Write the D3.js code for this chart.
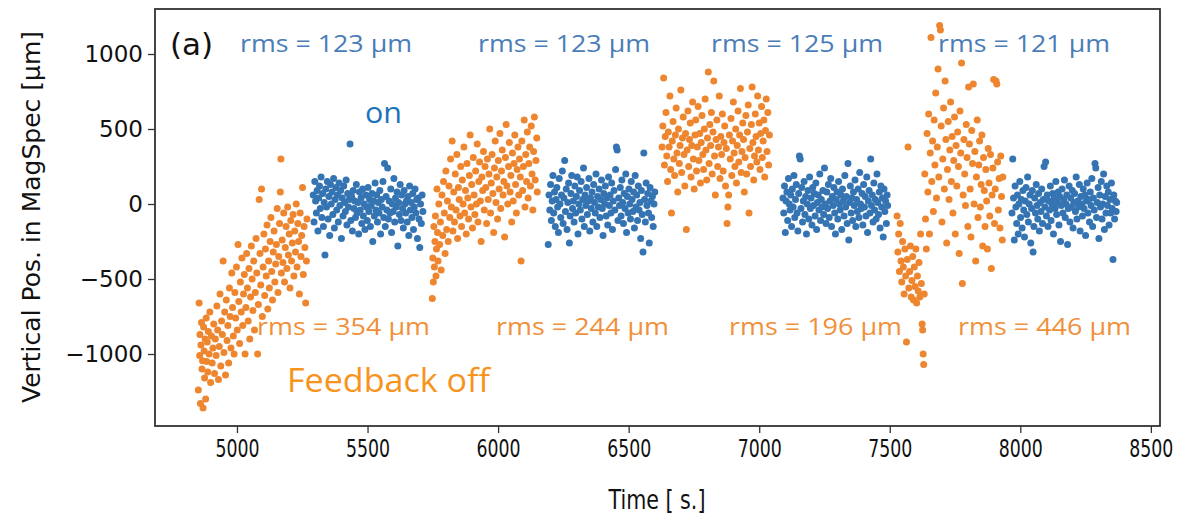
<!DOCTYPE html>
<html><head><meta charset="utf-8">
<script src="https://cdn.jsdelivr.net/npm/d3@7"></script>
<style>html,body{margin:0;padding:0;background:#fff;}svg{display:block;}</style>
</head><body>
<svg id="chart" width="1183" height="514"></svg>
<script>
// ---- data (time [s], vertical position [µm]) ----
const offA = [[4852,-1240],[4855,-660],[4857,-1010],[4858,-870],[4860,-1330],[4862,-940],[4864,-790],[4866,-1100],[4868,-1045],[4870,-1360],[4872,-820],[4874,-980],[4876,-1160],[4878,-900],[4880,-1300],[4882,-760],[4884,-1050],[4886,-920],[4888,-1120],[4890,-850],[4893,-1000],[4896,-720],[4899,-1190],[4902,-880],[4905,-1060],[4908,-960],[4911,-800],[4914,-1130],[4917,-900],[4920,-1010],[4923,-680],[4926,-840],[4929,-1170],[4932,-950],[4935,-600],[4938,-1080],[4941,-780],[4944,-870],[4947,-380],[4950,-990],[4953,-720],[4956,-1140],[4959,-640],[4962,-910],[4965,-810],[4968,-1060],[4971,-560],[4974,-750],[4977,-960],[4980,-460],[4983,-690],[4986,-880],[4989,-1000],[4992,-590],[4995,-760],[4998,-420],[5001,-840],[5004,-270],[5007,-650],[5010,-930],[5013,-520],[5016,-720],[5019,-360],[5022,-810],[5025,-600],[5028,-470],[5031,-1000],[5034,-690],[5037,-330],[5040,-560],[5043,-780],[5046,-430],[5049,-900],[5052,-620],[5055,-280],[5058,-500],[5061,-710],[5064,-380],[5067,-840],[5070,-590],[5073,-230],[5076,-460],[5079,-1000],[5082,-670],[5085,30],[5088,-330],[5091,-540],[5094,100],[5097,-750],[5100,-420],[5103,-200],[5106,-610],[5109,-300],[5112,-480],[5115,-140],[5118,-700],[5121,-380],[5124,-560],[5127,-250],[5130,-90],[5133,-450],[5136,-640],[5139,-320],[5142,-180],[5145,-520],[5148,-400],[5151,-270],[5154,-30],[5157,-590],[5160,-350],[5163,-130],[5166,80],[5168,300],[5170,-460],[5173,-240],[5176,-390],[5179,-60],[5182,-520],[5185,-290],[5188,-150],[5191,-430],[5194,-20],[5197,-340],[5200,-200],[5203,-560],[5206,-110],[5209,-380],[5212,-260],[5215,-70],[5218,-480],[5221,-180],[5224,-320],[5227,0],[5230,-420],[5233,-130],[5236,-250],[5239,-600],[5242,-60],[5245,-350],[5248,-210],[5251,110],[5254,-470],[5257,-150],[5260,-290],[5263,-660],[5266,-380],[5268,-100]];

const onB = [[5292,60],[5295,-120],[5298,150],[5301,20],[5304,-60],[5307,90],[5310,-180],[5313,40],[5316,120],[5319,-30],[5322,180],[5325,-90],[5328,70],[5331,-150],[5334,10],[5337,-340],[5340,100],[5343,-20],[5346,150],[5349,-100],[5352,50],[5355,-210],[5358,130],[5361,0],[5364,80],[5367,-70],[5370,170],[5373,-160],[5376,30],[5379,110],[5382,-40],[5385,60],[5388,-120],[5391,140],[5394,-10],[5397,90],[5400,-230],[5403,40],[5406,-80],[5409,120],[5412,10],[5415,-50],[5418,160],[5421,-140],[5424,70],[5427,-20],[5430,30],[5433,400],[5436,-110],[5439,50],[5442,-180],[5445,90],[5448,-30],[5451,20],[5454,-90],[5457,130],[5460,-60],[5463,10],[5466,-200],[5469,80],[5472,-40],[5475,40],[5478,-130],[5481,100],[5484,-80],[5487,0],[5490,-170],[5493,60],[5496,-20],[5499,-110],[5502,110],[5505,-50],[5508,30],[5511,-150],[5514,-10],[5517,70],[5520,-250],[5523,20],[5526,-80],[5529,140],[5532,-40],[5535,60],[5538,-120],[5541,10],[5544,-60],[5547,90],[5550,-200],[5553,30],[5556,-20],[5559,150],[5562,-90],[5565,270],[5568,-150],[5571,50],[5574,-40],[5577,240],[5580,-100],[5583,20],[5586,-60],[5589,100],[5592,-190],[5595,0],[5598,-50],[5601,170],[5604,-120],[5607,40],[5610,-20],[5613,80],[5616,-280],[5619,10],[5622,-70],[5625,130],[5628,-110],[5631,60],[5634,-30],[5637,-160],[5640,90],[5643,0],[5646,-60],[5649,20],[5652,-120],[5655,50],[5658,-210],[5661,120],[5664,-40],[5667,10],[5670,-90],[5673,70],[5676,-170],[5679,-20],[5682,100],[5685,-60],[5688,30],[5691,-230],[5694,40],[5697,-100],[5700,-290],[5703,0],[5706,-130],[5709,60],[5712,-50]];

const offC = [[5748,-630],[5750,-360],[5752,-520],[5754,-150],[5756,-420],[5758,-250],[5760,-80],[5762,-480],[5764,-300],[5766,100],[5768,-190],[5770,-380],[5773,0],[5776,-270],[5779,-120],[5782,-440],[5785,60],[5788,-210],[5791,150],[5794,-60],[5797,-330],[5800,220],[5803,-170],[5806,20],[5809,-250],[5812,120],[5815,-90],[5818,300],[5821,-20],[5824,420],[5827,-180],[5830,80],[5833,-120],[5836,200],[5839,-40],[5842,330],[5845,-230],[5848,110],[5851,30],[5854,-80],[5857,250],[5860,-150],[5863,160],[5866,0],[5869,380],[5872,-60],[5875,90],[5878,-200],[5881,270],[5884,40],[5887,-100],[5890,190],[5893,460],[5896,-20],[5899,130],[5902,-160],[5905,310],[5908,60],[5911,-70],[5914,220],[5917,0],[5920,400],[5923,-120],[5926,150],[5929,280],[5932,20],[5935,-250],[5938,180],[5941,90],[5944,350],[5947,-40],[5950,250],[5953,110],[5956,-130],[5959,300],[5962,30],[5965,200],[5968,500],[5971,-60],[5974,140],[5977,330],[5980,70],[5983,-190],[5986,240],[5989,420],[5992,10],[5995,180],[5998,-100],[6001,290],[6004,100],[6007,470],[6010,-30],[6013,220],[6016,360],[6019,60],[6022,150],[6025,-220],[6028,310],[6031,530],[6034,120],[6037,0],[6040,250],[6043,410],[6046,80],[6049,190],[6052,-120],[6055,340],[6058,20],[6061,270],[6064,460],[6067,130],[6070,-60],[6073,230],[6076,380],[6079,60],[6082,300],[6085,180],[6088,-380],[6091,420],[6094,90],[6097,250],[6100,560],[6103,-20],[6106,330],[6109,150],[6112,480],[6115,40],[6118,270],[6121,380],[6124,120],[6127,520],[6130,200],[6133,-40],[6136,350],[6139,580],[6142,160],[6145,290],[6148,440],[6150,80]];

const onD = [[6192,-270],[6195,60],[6198,-40],[6201,130],[6204,-110],[6207,20],[6210,190],[6213,-60],[6216,80],[6219,-150],[6222,30],[6225,110],[6228,-20],[6231,-190],[6234,170],[6237,0],[6240,-90],[6243,60],[6246,220],[6249,-130],[6252,40],[6255,290],[6258,-50],[6261,100],[6264,-170],[6267,10],[6270,140],[6273,-260],[6276,-80],[6279,70],[6282,190],[6285,-30],[6288,20],[6291,-120],[6294,120],[6297,-60],[6300,50],[6303,180],[6306,-200],[6309,0],[6312,90],[6315,-40],[6318,150],[6321,-100],[6324,30],[6327,240],[6330,-150],[6333,60],[6336,-10],[6339,110],[6342,-70],[6345,20],[6348,170],[6351,-180],[6354,40],[6357,-30],[6360,80],[6363,-120],[6366,130],[6369,10],[6372,-60],[6375,200],[6378,-150],[6381,50],[6384,-20],[6387,100],[6390,-90],[6393,30],[6396,160],[6399,-30],[6402,-210],[6405,70],[6408,0],[6411,120],[6414,-80],[6417,40],[6420,-140],[6423,180],[6426,-10],[6429,60],[6432,-60],[6435,140],[6438,-170],[6441,20],[6444,90],[6447,-40],[6450,230],[6453,380],[6456,360],[6459,-110],[6462,40],[6465,-10],[6468,110],[6471,-80],[6474,160],[6477,10],[6480,-130],[6483,70],[6486,-30],[6489,200],[6492,-190],[6495,50],[6498,-60],[6501,100],[6504,0],[6507,-100],[6510,150],[6513,30],[6516,-50],[6519,80],[6522,-160],[6525,190],[6528,-20],[6531,60],[6534,-110],[6537,120],[6540,-40],[6543,10],[6546,-230],[6549,90],[6552,-70],[6555,-320],[6558,340],[6561,30],[6564,-120],[6567,140],[6570,-10],[6573,70],[6576,-60],[6579,-260],[6582,110],[6585,20],[6588,-90],[6591,50],[6594,-150],[6597,0],[6600,80]];

const offE = [[6628,380],[6631,520],[6634,840],[6637,260],[6640,450],[6643,610],[6646,320],[6649,150],[6652,480],[6655,380],[6658,720],[6661,230],[6664,-60],[6667,420],[6670,550],[6673,300],[6676,190],[6679,460],[6682,640],[6685,340],[6688,80],[6691,500],[6694,270],[6697,390],[6700,760],[6703,210],[6706,440],[6709,580],[6712,330],[6715,120],[6718,470],[6721,-170],[6724,360],[6727,620],[6730,250],[6733,430],[6736,540],[6739,180],[6742,390],[6745,680],[6748,300],[6751,100],[6754,460],[6757,560],[6760,220],[6763,380],[6766,650],[6769,290],[6772,470],[6775,140],[6778,410],[6781,590],[6784,330],[6787,230],[6790,500],[6793,700],[6796,360],[6799,160],[6802,440],[6805,880],[6808,270],[6811,530],[6814,390],[6817,610],[6820,200],[6823,480],[6826,820],[6829,320],[6832,60],[6835,430],[6838,560],[6841,250],[6844,380],[6847,720],[6850,170],[6853,450],[6856,330],[6859,600],[6862,220],[6865,410],[6868,520],[6871,120],[6874,370],[6877,-130],[6880,-20],[6883,60],[6886,460],[6889,300],[6892,570],[6895,190],[6898,420],[6901,680],[6904,340],[6907,250],[6910,500],[6913,140],[6916,390],[6919,620],[6922,280],[6925,460],[6928,770],[6931,210],[6934,350],[6937,540],[6940,430],[6943,80],[6946,310],[6949,590],[6952,200],[6955,480],[6958,660],[6961,-60],[6964,370],[6967,250],[6970,530],[6973,780],[6976,410],[6979,160],[6982,320],[6985,600],[6988,450],[6991,280],[6994,720],[6997,360],[7000,540],[7003,230],[7006,470],[7009,650],[7012,310],[7015,420],[7018,560],[7021,180],[7024,490],[7027,700],[7030,350],[7033,610],[7036,260],[7039,460]];

const onF = [[7091,40],[7094,-60],[7097,120],[7100,-190],[7103,20],[7106,80],[7109,-110],[7112,170],[7115,0],[7118,-40],[7121,60],[7124,-150],[7127,100],[7130,-20],[7133,190],[7136,-90],[7139,30],[7142,130],[7145,-60],[7148,-180],[7151,70],[7154,320],[7157,300],[7160,-30],[7163,110],[7166,-120],[7169,20],[7172,150],[7175,-70],[7178,50],[7181,-200],[7184,0],[7187,90],[7190,-100],[7193,180],[7196,-30],[7199,40],[7202,-140],[7205,110],[7208,-10],[7211,70],[7214,-80],[7217,140],[7220,-170],[7223,10],[7226,60],[7229,-40],[7232,200],[7235,-110],[7238,30],[7241,-20],[7244,90],[7247,-70],[7250,240],[7253,0],[7256,-130],[7259,80],[7262,-30],[7265,130],[7268,-90],[7271,20],[7274,170],[7277,-150],[7280,50],[7283,-10],[7286,110],[7289,-60],[7292,-200],[7295,30],[7298,80],[7301,-100],[7304,150],[7307,0],[7310,-40],[7313,60],[7316,-170],[7319,100],[7322,20],[7325,-80],[7328,190],[7331,-20],[7334,50],[7337,-130],[7340,270],[7343,-240],[7346,10],[7349,120],[7352,-60],[7355,40],[7358,-110],[7361,80],[7364,-10],[7367,160],[7370,-150],[7373,30],[7376,-50],[7379,100],[7382,-90],[7385,210],[7388,0],[7391,-30],[7394,70],[7397,-140],[7400,130],[7403,-20],[7406,50],[7409,-80],[7412,180],[7415,-190],[7418,20],[7421,90],[7424,-60],[7427,300],[7430,-10],[7433,60],[7436,-120],[7439,140],[7442,-40],[7445,30],[7448,-100],[7451,200],[7454,10],[7457,-70],[7460,80],[7463,-160],[7466,120],[7469,-20],[7472,40],[7475,-220],[7478,100],[7481,-50],[7484,20],[7487,-130],[7490,60],[7492,-10]];

const offG = [[7528,-80],[7531,-320],[7534,-200],[7537,-450],[7540,-130],[7543,-380],[7546,-520],[7549,-250],[7552,-420],[7555,-600],[7558,-300],[7561,-480],[7564,-920],[7567,-370],[7570,380],[7573,-560],[7576,-450],[7579,-280],[7582,-620],[7585,-510],[7588,-350],[7591,-640],[7594,-420],[7597,-550],[7600,-300],[7603,-660],[7606,-480],[7609,-580],[7612,-390],[7615,-620],[7618,-200],[7621,-530],[7624,-800],[7626,-840],[7628,-1000],[7630,-1070],[7632,-600],[7634,200],[7637,-100],[7640,-300],[7643,470],[7646,80],[7649,600],[7652,-200],[7655,340],[7658,1110],[7661,150],[7664,420],[7667,-50],[7670,560],[7673,260],[7676,740],[7679,40],[7682,380],[7685,900],[7688,180],[7691,1190],[7694,1160],[7697,520],[7700,-120],[7703,300],[7706,640],[7709,100],[7712,820],[7715,430],[7718,-260],[7721,230],[7724,550],[7727,30],[7730,360],[7733,680],[7736,150],[7739,450],[7742,-60],[7745,290],[7748,580],[7751,-200],[7754,390],[7757,120],[7760,480],[7763,250],[7766,-330],[7769,620],[7772,340],[7775,940],[7778,-530],[7781,60],[7784,430],[7787,200],[7790,-10],[7793,530],[7796,310],[7799,-150],[7802,780],[7805,400],[7808,100],[7811,-220],[7814,490],[7817,270],[7820,800],[7823,0],[7826,350],[7829,-380],[7832,180],[7835,560],[7838,-90],[7841,260],[7844,420],[7847,-20],[7850,130],[7853,460],[7856,-280],[7859,310],[7862,90],[7865,-150],[7868,230],[7871,20],[7874,-300],[7877,370],[7880,140],[7883,-80],[7886,330],[7889,-430],[7892,60],[7895,240],[7898,830],[7901,-130],[7904,100],[7907,820],[7910,800],[7913,280],[7916,-40],[7919,170],[7922,-160],[7925,320],[7928,50],[7931,-240],[7933,180]];

const onH = [[7968,-60],[7971,300],[7974,40],[7977,-240],[7980,120],[7983,-20],[7986,-130],[7989,60],[7992,-200],[7995,0],[7998,150],[8001,-90],[8004,30],[8007,-160],[8010,90],[8013,-40],[8016,-220],[8019,20],[8022,110],[8025,-70],[8028,180],[8031,-120],[8034,0],[8037,60],[8040,-260],[8043,-30],[8046,90],[8049,-320],[8052,-150],[8055,40],[8058,-60],[8061,130],[8064,-10],[8067,-100],[8070,70],[8073,-180],[8076,10],[8079,-50],[8082,100],[8085,-130],[8088,30],[8091,250],[8094,-20],[8097,280],[8100,-80],[8103,60],[8106,-150],[8109,20],[8112,-40],[8115,120],[8118,-110],[8121,0],[8124,70],[8127,-200],[8130,40],[8133,-30],[8136,150],[8139,-70],[8142,10],[8145,80],[8148,-140],[8151,50],[8154,-250],[8157,-10],[8160,100],[8163,-60],[8166,30],[8169,160],[8172,-90],[8175,0],[8178,60],[8181,-270],[8184,-30],[8187,120],[8190,-120],[8193,40],[8196,-20],[8199,90],[8202,-160],[8205,10],[8208,70],[8211,-50],[8214,180],[8217,-100],[8220,20],[8223,-20],[8226,130],[8229,-180],[8232,50],[8235,0],[8238,-80],[8241,100],[8244,-30],[8247,60],[8250,-210],[8253,20],[8256,140],[8259,-60],[8262,30],[8265,-120],[8268,80],[8271,-10],[8274,170],[8277,-150],[8280,40],[8283,-40],[8286,270],[8289,240],[8292,-90],[8295,10],[8298,110],[8301,-230],[8304,60],[8307,-20],[8310,150],[8313,-100],[8316,0],[8319,200],[8322,-170],[8325,50],[8328,-60],[8331,120],[8334,-10],[8337,80],[8340,-140],[8343,30],[8346,-60],[8349,140],[8352,-30],[8355,-370],[8358,60],[8361,-100],[8364,20],[8367,-50],[8369,10]];

const offSeries = [offA, offC, offE, offG];
const onSeries = [onB, onD, onF, onH];

const xTicks = [5000, 5500, 6000, 6500, 7000, 7500, 8000, 8500];
const xTickLabels = ["5000", "5500", "6000", "6500", "7000", "7500", "8000", "8500"];
const yTicks = [-1000, -500, 0, 500, 1000];
const yTickLabels = ["\u22121000", "\u2212500", "0", "500", "1000"];

const onRmsLabels = ["rms = 123 \u00b5m", "rms = 123 \u00b5m", "rms = 125 \u00b5m", "rms = 121 \u00b5m"];
const offRmsLabels = ["rms = 354 \u00b5m", "rms = 244 \u00b5m", "rms = 196 \u00b5m", "rms = 446 \u00b5m"];

// ---- layout ----
const svg = d3.select("#chart");
const L = 155, R = 1160, T = 9, B = 426;
const x = d3.scaleLinear().domain([4686, 8535]).range([L, R]);
const y = d3.scaleLinear().domain([-1480, 1300]).range([B, T]);

const BLUE = "#3574b2", ORANGE = "#ee8630";

// points
const pts = svg.append("g");
offSeries.forEach(s => pts.append("g").selectAll("circle").data(s).join("circle")
  .attr("cx", d => x(d[0])).attr("cy", d => y(d[1])).attr("r", 3.5).attr("fill", ORANGE));
onSeries.forEach(s => pts.append("g").selectAll("circle").data(s).join("circle")
  .attr("cx", d => x(d[0])).attr("cy", d => y(d[1])).attr("r", 3.5).attr("fill", BLUE));

// axes
const xAxis = svg.append("g").attr("transform", `translate(0,${B})`)
  .call(d3.axisBottom(x).tickValues(xTicks).tickFormat((d, i) => xTickLabels[i]).tickSize(7).tickPadding(6));
xAxis.select(".domain").remove();
xAxis.selectAll("line").attr("stroke", "#333").attr("stroke-width", 1.3);
xAxis.selectAll("text").attr("fill", "#111").style("font-family", "'DejaVu Sans Condensed','DejaVu Sans',sans-serif")
  .style("font-size", "25px").attr("transform", "scale(0.77,1)");

const yAxis = svg.append("g").attr("transform", `translate(${L},0)`)
  .call(d3.axisLeft(y).tickValues(yTicks).tickFormat((d, i) => yTickLabels[i]).tickSize(7).tickPadding(5));
yAxis.select(".domain").remove();
yAxis.selectAll("line").attr("stroke", "#333").attr("stroke-width", 1.3);
yAxis.selectAll("text").attr("fill", "#111").style("font-family", "'DejaVu Sans',sans-serif").style("font-size", "23px");

// frame
svg.append("rect").attr("x", L).attr("y", T).attr("width", R - L).attr("height", B - T)
  .attr("fill", "none").attr("stroke", "#333").attr("stroke-width", 1.8);

// axis titles
svg.append("text").attr("transform", "translate(40,217) rotate(-90)").attr("text-anchor", "middle")
  .style("font-family", "'DejaVu Sans',sans-serif").style("font-size", "25px").attr("fill", "#111")
  .text("Vertical Pos. in MagSpec [\u00b5m]");
svg.append("text").attr("transform", "translate(657,509) scale(0.85,1)").attr("text-anchor", "middle")
  .style("font-family", "'DejaVu Sans Condensed','DejaVu Sans',sans-serif").style("font-size", "27px").attr("fill", "#111")
  .text("Time [ s.]");

// annotations
svg.append("text").attr("x", 170).attr("y", 55).style("font-family", "'DejaVu Sans',sans-serif")
  .style("font-size", "31px").attr("fill", "#111").text("(a)");

const onX = [240, 478, 711, 938];
const offX = [257, 496, 729, 958];
svg.append("g").selectAll("text").data(onRmsLabels).join("text")
  .attr("x", (d, i) => onX[i]).attr("y", 52)
  .attr("textLength", 172).attr("lengthAdjust", "spacingAndGlyphs")
  .style("font-family", "'Open Sans',sans-serif").style("font-size", "24px").attr("fill", "#4a7db8").text(d => d);
svg.append("g").selectAll("text").data(offRmsLabels).join("text")
  .attr("x", (d, i) => offX[i]).attr("y", 335)
  .attr("textLength", 173).attr("lengthAdjust", "spacingAndGlyphs")
  .style("font-family", "'Open Sans',sans-serif").style("font-size", "24px").attr("fill", "#f0903a").text(d => d);

svg.append("text").attr("x", 365).attr("y", 123).attr("textLength", 37).attr("lengthAdjust", "spacingAndGlyphs")
  .style("font-family", "'Open Sans',sans-serif").style("font-size", "29px").attr("fill", "#1b74bb").text("on");
svg.append("text").attr("x", 287).attr("y", 392).attr("textLength", 203).attr("lengthAdjust", "spacingAndGlyphs")
  .style("font-family", "'Open Sans',sans-serif").style("font-size", "33px").attr("fill", "#f7941d").text("Feedback off");
</script>
</body></html>
